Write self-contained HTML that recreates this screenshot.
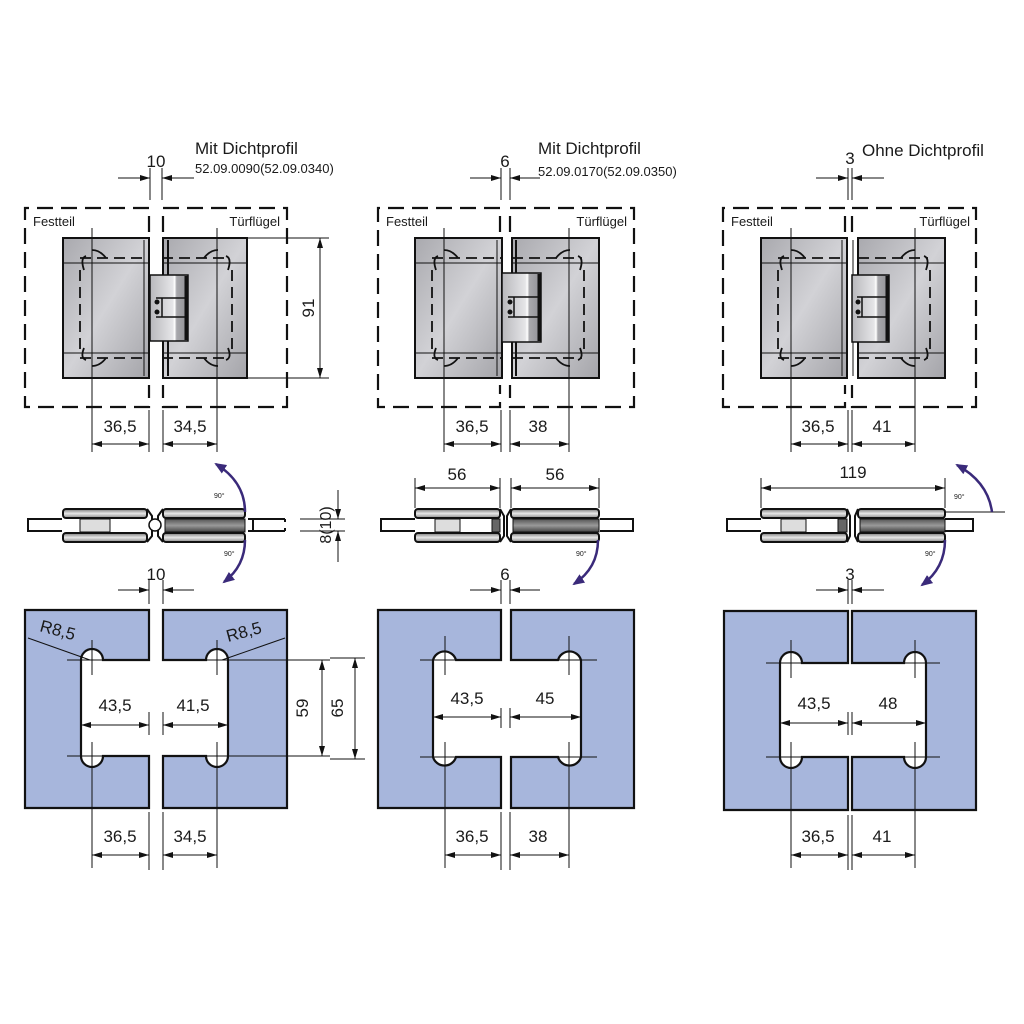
<!DOCTYPE html>
<html><head><meta charset="utf-8"><style>
html,body{margin:0;padding:0;background:#fff}
svg{display:block}
text{font-family:"Liberation Sans",sans-serif;fill:#1a1a1a}
</style></head><body>
<svg width="1024" height="1024" viewBox="0 0 1024 1024" xmlns="http://www.w3.org/2000/svg">
<defs>
<marker id="a" viewBox="0 0 10 6" refX="10" refY="3" markerWidth="10" markerHeight="6" markerUnits="userSpaceOnUse" orient="auto-start-reverse"><path d="M0,0 L10,3 L0,6 Z" fill="#111"/></marker>
<marker id="p" viewBox="0 0 12 10" refX="10" refY="5" markerWidth="12" markerHeight="10" markerUnits="userSpaceOnUse" orient="auto"><path d="M0,0 L12,5 L0,10 Z" fill="#3a2a7a"/></marker>
<linearGradient id="g" x1="0" y1="0" x2="1" y2="1"><stop offset="0" stop-color="#a9a9ae"/><stop offset="0.5" stop-color="#d2d2d6"/><stop offset="1" stop-color="#a4a4a9"/></linearGradient>
<linearGradient id="gb" x1="0" y1="0" x2="1" y2="0"><stop offset="0" stop-color="#b8b8bc"/><stop offset="0.6" stop-color="#e6e6e8"/><stop offset="0.65" stop-color="#ffffff"/><stop offset="0.7" stop-color="#a8a8ac"/><stop offset="1" stop-color="#909095"/></linearGradient>
<linearGradient id="bar" x1="0" y1="0" x2="0" y2="1"><stop offset="0" stop-color="#777"/><stop offset="0.5" stop-color="#e8e8e8"/><stop offset="1" stop-color="#888"/></linearGradient>
<linearGradient id="bar2" x1="0" y1="0" x2="0" y2="1"><stop offset="0" stop-color="#555"/><stop offset="0.5" stop-color="#9a9a9a"/><stop offset="1" stop-color="#444"/></linearGradient>
</defs>

<!-- ============ TITLES ============ -->
<text x="195" y="154" font-size="17">Mit Dichtprofil</text>
<text x="195" y="173" font-size="13">52.09.0090(52.09.0340)</text>
<text x="538" y="154" font-size="17">Mit Dichtprofil</text>
<text x="538" y="176" font-size="13">52.09.0170(52.09.0350)</text>
<text x="862" y="156" font-size="17">Ohne Dichtprofil</text>

<g stroke="#111" stroke-width="1" fill="none">
<!-- top gap dims -->
<line x1="150" y1="168" x2="150" y2="200"/><line x1="162" y1="168" x2="162" y2="200"/>
<line x1="118" y1="178" x2="150" y2="178" marker-end="url(#a)"/><line x1="194" y1="178" x2="162" y2="178" marker-end="url(#a)"/>
<line x1="501" y1="168" x2="501" y2="200"/><line x1="510" y1="168" x2="510" y2="200"/>
<line x1="470" y1="178" x2="501" y2="178" marker-end="url(#a)"/><line x1="540" y1="178" x2="510" y2="178" marker-end="url(#a)"/>
<line x1="848" y1="168" x2="848" y2="200"/><line x1="852" y1="168" x2="852" y2="200"/>
<line x1="816" y1="178" x2="848" y2="178" marker-end="url(#a)"/><line x1="884" y1="178" x2="852" y2="178" marker-end="url(#a)"/>
</g>
<text x="156" y="167" font-size="17" text-anchor="middle">10</text>
<text x="505" y="167" font-size="17" text-anchor="middle">6</text>
<text x="850" y="164" font-size="17" text-anchor="middle">3</text>

<!-- ============ TOP VIEWS ============ -->
<!-- col1 -->
<g>
<rect x="63" y="238" width="86" height="140" fill="url(#g)" stroke="#111" stroke-width="2"/>
<rect x="163" y="238" width="84" height="140" fill="url(#g)" stroke="#111" stroke-width="2"/>
<rect x="150" y="275" width="38" height="66" fill="url(#gb)" stroke="#111" stroke-width="1.5"/>
<line x1="186" y1="276" x2="186" y2="340" stroke="#111" stroke-width="3"/>
<path d="M156,298 H186 M162,298 V317 M156,317 H186" stroke="#111" stroke-width="1.5" fill="none"/>
<circle cx="157" cy="302" r="2.5" fill="#111"/><circle cx="157" cy="312" r="2.5" fill="#111"/>
<line x1="144" y1="240" x2="144" y2="376" stroke="#111"/><line x1="168" y1="240" x2="168" y2="275" stroke="#111" stroke-width="2"/><line x1="168" y1="341" x2="168" y2="376" stroke="#111" stroke-width="2"/>
</g>
<!-- col2 -->
<g>
<rect x="415" y="238" width="87" height="140" fill="url(#g)" stroke="#111" stroke-width="2"/>
<rect x="512" y="238" width="87" height="140" fill="url(#g)" stroke="#111" stroke-width="2"/>
<rect x="502" y="273" width="39" height="69" fill="url(#gb)" stroke="#111" stroke-width="1.5"/>
<line x1="539" y1="274" x2="539" y2="341" stroke="#111" stroke-width="3"/>
<path d="M508,297 H539 M514,297 V317 M508,317 H539" stroke="#111" stroke-width="1.5" fill="none"/>
<circle cx="510" cy="302" r="2.5" fill="#111"/><circle cx="510" cy="312" r="2.5" fill="#111"/>
<line x1="497" y1="240" x2="497" y2="376" stroke="#111"/><line x1="516" y1="240" x2="516" y2="273" stroke="#111" stroke-width="2"/><line x1="516" y1="342" x2="516" y2="376" stroke="#111" stroke-width="2"/>
</g>
<!-- col3 -->
<g>
<rect x="761" y="238" width="86" height="140" fill="url(#g)" stroke="#111" stroke-width="2"/>
<rect x="858" y="238" width="87" height="140" fill="url(#g)" stroke="#111" stroke-width="2"/>
<rect x="852" y="275" width="37" height="67" fill="url(#gb)" stroke="#111" stroke-width="1.5"/>
<line x1="887" y1="276" x2="887" y2="341" stroke="#111" stroke-width="3"/>
<path d="M857,297 H887 M862,297 V317 M857,317 H887" stroke="#111" stroke-width="1.5" fill="none"/>
<circle cx="858" cy="302" r="2.5" fill="#111"/><circle cx="858" cy="312" r="2.5" fill="#111"/>
<line x1="842" y1="240" x2="842" y2="376" stroke="#111"/><line x1="853" y1="240" x2="853" y2="275" stroke="#111"/><line x1="853" y1="342" x2="853" y2="376" stroke="#111"/>
</g>

<!-- plate interior lines -->
<g stroke="#111" stroke-width="1" fill="none">
<line x1="63" y1="263" x2="149" y2="263"/><line x1="63" y1="353" x2="149" y2="353"/>
<line x1="163" y1="263" x2="247" y2="263"/><line x1="163" y1="353" x2="247" y2="353"/>
<line x1="415" y1="263" x2="502" y2="263"/><line x1="415" y1="353" x2="502" y2="353"/>
<line x1="512" y1="263" x2="599" y2="263"/><line x1="512" y1="353" x2="599" y2="353"/>
<line x1="761" y1="263" x2="847" y2="263"/><line x1="761" y1="353" x2="847" y2="353"/>
<line x1="858" y1="263" x2="945" y2="263"/><line x1="858" y1="353" x2="945" y2="353"/>
</g>
<g stroke="#111" stroke-width="1.8" fill="none" stroke-dasharray="11,6">
<!-- dashed holes outlines -->
<path d="M80,258 H150 M80,358 H150 M80,270 V350"/>
<path d="M162,258 H230 M162,358 H230 M232,270 V350"/>
<path d="M432,258 H502 M432,358 H502 M432,270 V350"/>
<path d="M512,258 H582 M512,358 H582 M584,270 V350"/>
<path d="M778,258 H848 M778,358 H848 M778,270 V350"/>
<path d="M858,258 H928 M858,358 H928 M930,270 V350"/>
</g>
<g stroke="#111" stroke-width="1.8" fill="none">
<path d="M84,270 Q80,258 86,256 M92,250 Q100,250 106,258 M84,348 Q80,358 86,360 M92,366 Q100,366 106,358"/>
<path d="M228,270 Q232,258 226,256 M218,250 Q210,250 204,258 M228,348 Q232,358 226,360 M218,366 Q210,366 204,358"/>
<path d="M436,270 Q432,258 438,256 M444,250 Q452,250 458,258 M436,348 Q432,358 438,360 M444,366 Q452,366 458,358"/>
<path d="M580,270 Q584,258 578,256 M570,250 Q562,250 556,258 M580,348 Q584,358 578,360 M570,366 Q562,366 556,358"/>
<path d="M782,270 Q778,258 784,256 M791,250 Q799,250 805,258 M782,348 Q778,358 784,360 M791,366 Q799,366 805,358"/>
<path d="M926,270 Q930,258 924,256 M915,250 Q907,250 901,258 M926,348 Q930,358 924,360 M915,366 Q907,366 901,358"/>
</g>

<!-- dashed frames -->
<g stroke="#111" stroke-width="2.2" fill="none" stroke-dasharray="16,8">
<path d="M149,232 V208 H25 V407 H149 V385"/>
<path d="M163,232 V208 H287 V407 H163 V385"/>
<path d="M500,232 V208 H378 V407 H500 V385"/>
<path d="M510,232 V208 H634 V407 H510 V385"/>
<path d="M845,232 V208 H723 V407 H845 V385"/>
<path d="M852,232 V208 H976 V407 H852 V385"/>
</g>
<text x="33" y="226" font-size="13">Festteil</text>
<text x="280" y="226" font-size="13" text-anchor="end">Türflügel</text>
<text x="386" y="226" font-size="13">Festteil</text>
<text x="627" y="226" font-size="13" text-anchor="end">Türflügel</text>
<text x="731" y="226" font-size="13">Festteil</text>
<text x="970" y="226" font-size="13" text-anchor="end">Türflügel</text>

<!-- crosshair verticals and dims top -->
<g stroke="#111" stroke-width="1" fill="none">
<line x1="92" y1="228" x2="92" y2="452"/><line x1="217" y1="228" x2="217" y2="452"/>
<line x1="149" y1="410" x2="149" y2="452"/><line x1="163" y1="410" x2="163" y2="452"/>
<line x1="92" y1="444" x2="149" y2="444" marker-start="url(#a)" marker-end="url(#a)"/>
<line x1="163" y1="444" x2="217" y2="444" marker-start="url(#a)" marker-end="url(#a)"/>
<line x1="247" y1="238" x2="329" y2="238"/><line x1="247" y1="378" x2="329" y2="378"/>
<line x1="320" y1="238" x2="320" y2="378" marker-start="url(#a)" marker-end="url(#a)"/>

<line x1="444" y1="228" x2="444" y2="452"/><line x1="569" y1="228" x2="569" y2="452"/>
<line x1="501" y1="410" x2="501" y2="452"/><line x1="510" y1="410" x2="510" y2="452"/>
<line x1="444" y1="444" x2="501" y2="444" marker-start="url(#a)" marker-end="url(#a)"/>
<line x1="510" y1="444" x2="569" y2="444" marker-start="url(#a)" marker-end="url(#a)"/>

<line x1="791" y1="228" x2="791" y2="452"/><line x1="915" y1="228" x2="915" y2="452"/>
<line x1="848" y1="410" x2="848" y2="452"/><line x1="852" y1="410" x2="852" y2="452"/>
<line x1="791" y1="444" x2="848" y2="444" marker-start="url(#a)" marker-end="url(#a)"/>
<line x1="852" y1="444" x2="915" y2="444" marker-start="url(#a)" marker-end="url(#a)"/>
</g>
<text x="120" y="432" font-size="17" text-anchor="middle">36,5</text>
<text x="190" y="432" font-size="17" text-anchor="middle">34,5</text>
<text x="472" y="432" font-size="17" text-anchor="middle">36,5</text>
<text x="538" y="432" font-size="17" text-anchor="middle">38</text>
<text x="818" y="432" font-size="17" text-anchor="middle">36,5</text>
<text x="882" y="432" font-size="17" text-anchor="middle">41</text>
<text x="0" y="0" font-size="17" text-anchor="middle" transform="translate(314,308) rotate(-90)">91</text>

<!-- ============ SIDE VIEWS ============ -->
<!-- col1 -->
<g stroke="#111" stroke-width="2">
<path d="M62,519 H28 V531 H62" fill="#fff"/>
<path d="M253,519 H285 M253,531 H285 M285,519 V522 M285,528 V531" fill="none"/>
<path d="M248,519 H253 V531 H248" fill="#fff"/>
<rect x="63" y="509" width="84" height="9" rx="3" fill="url(#bar)"/>
<rect x="63" y="533" width="84" height="9" rx="3" fill="url(#bar)"/>
<path d="M147,509 L152,516 V536 L147,542 M163,509 L158,516 V536 L163,542" fill="none"/>
<rect x="163" y="509" width="82" height="9" rx="3" fill="url(#bar)"/>
<rect x="163" y="533" width="82" height="9" rx="3" fill="url(#bar)"/>
<rect x="80" y="519" width="30" height="13" fill="#ddd" stroke-width="1"/>
<rect x="165" y="519" width="80" height="13" fill="url(#bar2)" stroke-width="1"/>
<circle cx="155" cy="525" r="6" fill="#fff" stroke-width="1.5"/>
</g>
<!-- col2 -->
<g stroke="#111" stroke-width="2">
<path d="M415,519 H381 V531 H415" fill="#fff"/>
<path d="M600,519 H633 V531 H600" fill="#fff"/>
<rect x="415" y="509" width="85" height="9" rx="3" fill="url(#bar)"/>
<rect x="415" y="533" width="85" height="9" rx="3" fill="url(#bar)"/>
<rect x="511" y="509" width="88" height="9" rx="3" fill="url(#bar)"/>
<rect x="511" y="533" width="88" height="9" rx="3" fill="url(#bar)"/>
<path d="M500,509 L504,516 V536 L500,542 M511,509 L507,516 V536 L511,542" fill="none"/>
<rect x="435" y="519" width="25" height="13" fill="#ddd" stroke-width="1"/>
<rect x="492" y="519" width="8" height="13" fill="#666" stroke-width="1"/>
<rect x="513" y="519" width="86" height="13" fill="url(#bar2)" stroke-width="1"/>
</g>
<!-- col3 -->
<g stroke="#111" stroke-width="2">
<path d="M761,519 H727 V531 H761" fill="#fff"/>
<path d="M945,519 H973 V531 H945" fill="#fff"/>
<rect x="761" y="509" width="86" height="9" rx="3" fill="url(#bar)"/>
<rect x="761" y="533" width="86" height="9" rx="3" fill="url(#bar)"/>
<rect x="858" y="509" width="87" height="9" rx="3" fill="url(#bar)"/>
<rect x="858" y="533" width="87" height="9" rx="3" fill="url(#bar)"/>
<path d="M847,509 L850,516 V536 L847,542 M858,509 L855,516 V536 L858,542" fill="none"/>
<rect x="781" y="519" width="25" height="13" fill="#ddd" stroke-width="1"/>
<rect x="838" y="519" width="9" height="13" fill="#666" stroke-width="1"/>
<rect x="860" y="519" width="85" height="13" fill="url(#bar2)" stroke-width="1"/>
</g>
<!-- side view dims -->
<g stroke="#111" stroke-width="1" fill="none">
<line x1="300" y1="519" x2="345" y2="519"/><line x1="300" y1="531" x2="345" y2="531"/>
<line x1="338" y1="490" x2="338" y2="519" marker-end="url(#a)"/><line x1="338" y1="562" x2="338" y2="531" marker-end="url(#a)"/>
<line x1="415" y1="478" x2="415" y2="508"/><line x1="500" y1="478" x2="500" y2="508"/>
<line x1="511" y1="478" x2="511" y2="508"/><line x1="599" y1="478" x2="599" y2="508"/>
<line x1="415" y1="488" x2="500" y2="488" marker-start="url(#a)" marker-end="url(#a)"/>
<line x1="511" y1="488" x2="599" y2="488" marker-start="url(#a)" marker-end="url(#a)"/>
<line x1="761" y1="478" x2="761" y2="508"/><line x1="945" y1="478" x2="945" y2="508"/>
<line x1="761" y1="488" x2="945" y2="488" marker-start="url(#a)" marker-end="url(#a)"/>
<line x1="945" y1="512" x2="1005" y2="512"/>
</g>
<text x="0" y="0" font-size="16" text-anchor="middle" transform="translate(331,525) rotate(-90)">8(10)</text>
<text x="457" y="480" font-size="17" text-anchor="middle">56</text>
<text x="555" y="480" font-size="17" text-anchor="middle">56</text>
<text x="853" y="478" font-size="17" text-anchor="middle">119</text>
<g font-size="7">
<text x="214" y="498">90°</text><text x="224" y="556">90°</text>
<text x="576" y="556">90°</text>
<text x="954" y="499">90°</text><text x="925" y="556">90°</text>
</g>
<!-- purple arrows -->
<g stroke="#3a2a7a" stroke-width="2.5" fill="none">
<path d="M245,512 Q245,482 216,464" marker-end="url(#p)"/>
<path d="M245,540 Q245,566 224,582" marker-end="url(#p)"/>
<path d="M598,540 Q598,568 574,584" marker-end="url(#p)"/>
<path d="M992,512 Q988,482 957,465" marker-end="url(#p)"/>
<path d="M945,540 Q945,568 922,585" marker-end="url(#p)"/>
</g>

<!-- ============ BLUE PLATES ============ -->
<g fill="#a7b6dc" stroke="#111" stroke-width="2.2" stroke-linejoin="miter">
<path d="M149,660 H103 A11,11 0 0 0 81,660 V756 A11,11 0 0 0 103,756 H149 V808 H25 V610 H149 Z"/>
<path d="M163,660 H206 A11,11 0 0 1 228,660 V756 A11,11 0 0 1 206,756 H163 V808 H287 V610 H163 Z"/>
<path d="M501,660 H456 A12,12 0 0 0 433,660 V757 A12,12 0 0 0 456,757 H501 V808 H378 V610 H501 Z"/>
<path d="M511,660 H558 A12,12 0 0 1 581,660 V757 A12,12 0 0 1 558,757 H511 V808 H634 V610 H511 Z"/>
<path d="M848,663 H802 A11,11 0 0 0 780,663 V757 A11,11 0 0 0 802,757 H848 V810 H724 V611 H848 Z"/>
<path d="M852,663 H904 A11,11 0 0 1 926,663 V757 A11,11 0 0 1 904,757 H852 V810 H976 V611 H852 Z"/>
</g>
<!-- hole crosshairs & ext lines -->
<g stroke="#111" stroke-width="1" fill="none">
<path d="M67,660 H116 M67,756 H116 M92,640 V675 M92,742 V868"/>
<path d="M192,660 H240 M192,756 H240 M217,640 V675 M217,742 V868"/>
<path d="M420,660 H470 M420,757 H470 M445,636 V675 M445,742 V868"/>
<path d="M545,660 H597 M545,757 H597 M569,636 V675 M569,742 V868"/>
<path d="M766,663 H816 M766,757 H816 M791,640 V678 M791,742 V868"/>
<path d="M890,663 H940 M890,757 H940 M915,640 V678 M915,742 V868"/>
<!-- gap lines -->
<path d="M149,580 V604 M163,580 V604 M149,712 V735 M163,712 V735 M149,812 V870 M163,812 V870"/>
<path d="M501,580 V604 M510,580 V604 M501,708 V728 M510,708 V728 M501,812 V870 M510,812 V870"/>
<path d="M848,580 V604 M852,580 V604 M848,712 V735 M852,712 V735 M848,815 V870 M852,815 V870"/>
<!-- gap dims -->
<line x1="118" y1="590" x2="149" y2="590" marker-end="url(#a)"/><line x1="194" y1="590" x2="163" y2="590" marker-end="url(#a)"/>
<line x1="470" y1="590" x2="501" y2="590" marker-end="url(#a)"/><line x1="540" y1="590" x2="510" y2="590" marker-end="url(#a)"/>
<line x1="816" y1="590" x2="848" y2="590" marker-end="url(#a)"/><line x1="884" y1="590" x2="852" y2="590" marker-end="url(#a)"/>
<!-- mid dims -->
<line x1="81" y1="725" x2="149" y2="725" marker-start="url(#a)" marker-end="url(#a)"/>
<line x1="163" y1="725" x2="228" y2="725" marker-start="url(#a)" marker-end="url(#a)"/>
<line x1="433" y1="717" x2="501" y2="717" marker-start="url(#a)" marker-end="url(#a)"/>
<line x1="510" y1="717" x2="581" y2="717" marker-start="url(#a)" marker-end="url(#a)"/>
<line x1="780" y1="723" x2="848" y2="723" marker-start="url(#a)" marker-end="url(#a)"/>
<line x1="852" y1="723" x2="926" y2="723" marker-start="url(#a)" marker-end="url(#a)"/>
<!-- bottom dims -->
<line x1="92" y1="855" x2="149" y2="855" marker-start="url(#a)" marker-end="url(#a)"/>
<line x1="163" y1="855" x2="217" y2="855" marker-start="url(#a)" marker-end="url(#a)"/>
<line x1="445" y1="855" x2="501" y2="855" marker-start="url(#a)" marker-end="url(#a)"/>
<line x1="510" y1="855" x2="569" y2="855" marker-start="url(#a)" marker-end="url(#a)"/>
<line x1="791" y1="855" x2="848" y2="855" marker-start="url(#a)" marker-end="url(#a)"/>
<line x1="852" y1="855" x2="915" y2="855" marker-start="url(#a)" marker-end="url(#a)"/>
<!-- 59 / 65 -->
<path d="M240,660 H330 M240,756 H330 M330,658 H365 M330,759 H365"/>
<line x1="322" y1="660" x2="322" y2="756" marker-start="url(#a)" marker-end="url(#a)"/>
<line x1="355" y1="658" x2="355" y2="759" marker-start="url(#a)" marker-end="url(#a)"/>
<!-- R8,5 leaders -->
<line x1="28" y1="638" x2="90" y2="660"/>
<line x1="285" y1="638" x2="222" y2="660"/>
</g>
<text x="156" y="580" font-size="17" text-anchor="middle">10</text>
<text x="505" y="580" font-size="17" text-anchor="middle">6</text>
<text x="850" y="580" font-size="17" text-anchor="middle">3</text>
<text x="115" y="711" font-size="17" text-anchor="middle">43,5</text>
<text x="193" y="711" font-size="17" text-anchor="middle">41,5</text>
<text x="467" y="704" font-size="17" text-anchor="middle">43,5</text>
<text x="545" y="704" font-size="17" text-anchor="middle">45</text>
<text x="814" y="709" font-size="17" text-anchor="middle">43,5</text>
<text x="888" y="709" font-size="17" text-anchor="middle">48</text>
<text x="120" y="842" font-size="17" text-anchor="middle">36,5</text>
<text x="190" y="842" font-size="17" text-anchor="middle">34,5</text>
<text x="472" y="842" font-size="17" text-anchor="middle">36,5</text>
<text x="538" y="842" font-size="17" text-anchor="middle">38</text>
<text x="818" y="842" font-size="17" text-anchor="middle">36,5</text>
<text x="882" y="842" font-size="17" text-anchor="middle">41</text>
<text x="0" y="0" font-size="17" text-anchor="middle" transform="translate(308,708) rotate(-90)">59</text>
<text x="0" y="0" font-size="17" text-anchor="middle" transform="translate(343,708) rotate(-90)">65</text>
<text x="0" y="0" font-size="17" transform="translate(39,631) rotate(15)">R8,5</text>
<text x="0" y="0" font-size="17" transform="translate(228,642) rotate(-15)">R8,5</text>
</svg>
</body></html>
